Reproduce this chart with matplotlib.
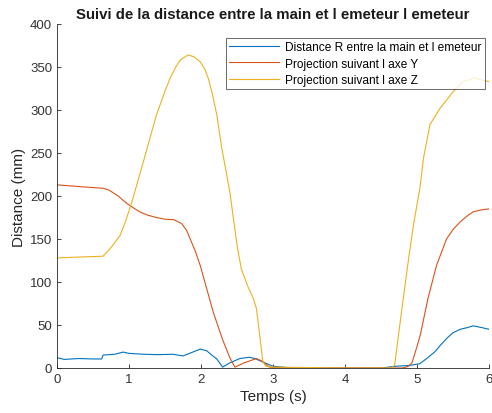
import matplotlib
matplotlib.use("Agg")
import matplotlib.pyplot as plt
import numpy as np

plt.rcParams['font.family'] = ['Liberation Sans', 'DejaVu Sans']

# Distance R (blue)
t_r = [0, 0.1, 0.3, 0.5, 0.62, 0.64, 0.8, 0.92, 1.0, 1.2, 1.4, 1.61, 1.75, 1.9, 1.99,
       2.08, 2.15, 2.22, 2.3, 2.4, 2.54, 2.67, 2.75, 2.83, 3.0, 3.2, 3.5, 4.0, 4.5, 4.7,
       4.9, 5.04, 5.15, 5.25, 5.32, 5.42, 5.5, 5.6, 5.7, 5.78, 5.9, 6.0]
r_vals = [12, 10, 11, 10.5, 10.5, 15, 16, 18.5, 17, 16, 15.5, 16, 14, 19, 22,
          20, 15, 10.5, 1, 6, 11, 12.5, 11, 8, 2, 0.5, 0, 0, 0, 2,
          3, 5, 12, 19, 26, 35, 41, 45, 47, 49, 47, 45]

# Projection Y (red)
t_y = [0, 0.3, 0.64, 0.72, 0.85, 0.93, 1.01, 1.15, 1.25, 1.38, 1.5, 1.62, 1.73, 1.8,
       1.85, 1.92, 1.99, 2.08, 2.17, 2.3, 2.4, 2.47, 2.6, 2.77, 2.85, 2.95, 3.2, 4.0,
       4.8, 4.88, 4.93, 5.0, 5.05, 5.15, 5.27, 5.41, 5.5, 5.6, 5.7, 5.78, 5.9, 6.0]
y_vals = [213, 211, 209, 207, 200, 194, 189, 181.5, 178, 175, 173, 172.5, 168, 160,
          150, 136, 119, 92, 65, 33, 12, 1, 6, 11, 8, 1, 0, 0,
          0, 2, 6, 25, 40, 80, 119, 150, 161, 170, 177, 181.6, 184, 185]

# Projection Z (yellow)
t_z = [0, 0.3, 0.64, 0.75, 0.875, 0.95, 1.04, 1.2, 1.38, 1.5, 1.57, 1.65, 1.71, 1.82,
       1.9, 1.99, 2.05, 2.1, 2.16, 2.22, 2.29, 2.4, 2.5, 2.56, 2.65, 2.73, 2.77, 2.82,
       2.86, 2.9, 3.0, 4.0, 4.65, 4.69, 4.8, 4.88, 4.95, 5.04, 5.09, 5.18, 5.32, 5.5,
       5.64, 5.8, 6.0]
z_vals = [128, 129, 130, 140, 154, 170, 193, 240, 294, 322, 337, 350, 358, 364,
          362, 356, 348, 337, 318, 294, 255, 205, 143, 115, 95, 80, 69, 35,
          7, 2, 1, 0, 0, 4, 75, 125, 166, 209, 244, 283, 302, 321,
          333, 337, 333]

labels = ["Distance R entre la main et l emeteur",
          "Projection suivant l axe Y",
          "Projection suivant l axe Z"]
colors = ["#0072BD", "#D95319", "#EDB120"]

fig = plt.figure(figsize=(4.92, 4.14), dpi=100)
ax = fig.add_axes([57 / 492, 1 - 369 / 414, 432 / 492, 344 / 414])

ax.plot(t_r, r_vals, color=colors[0], lw=0.8, label=labels[0])
ax.plot(t_y, y_vals, color=colors[1], lw=0.8, label=labels[1])
ax.plot(t_z, z_vals, color=colors[2], lw=0.8, label=labels[2])

ax.set_xlim(0, 6)
ax.set_ylim(0, 400)
ax.set_xticks(np.arange(0, 7, 1))
ax.set_yticks(np.arange(0, 401, 50))

for s in ['top', 'right']:
  ax.spines[s].set_visible(False)
for s in ['left', 'bottom']:
  ax.spines[s].set_color('#262626')
  ax.spines[s].set_linewidth(0.6)
ax.tick_params(direction='in', length=3, width=0.6, colors='#262626', labelsize=9.5, labelcolor='#333333')

ax.set_xlabel("Temps (s)", fontsize=11, color='#262626', labelpad=3)
ax.set_ylabel("Distance (mm)", fontsize=11, color='#262626', labelpad=3)
ax.set_title("Suivi de la distance entre la main et l emeteur l emeteur",
             fontsize=10.8, fontweight='bold', color='#1a1a1a', pad=4)

leg = ax.legend(loc='upper right', fontsize=8.6, frameon=True, fancybox=False,
                edgecolor='#262626', handlelength=4.2, borderaxespad=0.3,
                labelspacing=0.35, borderpad=0.3, handletextpad=0.5,
                bbox_to_anchor=(1.0, 0.97))
leg.get_frame().set_linewidth(0.6)

fig.savefig("out.png", dpi=100)
